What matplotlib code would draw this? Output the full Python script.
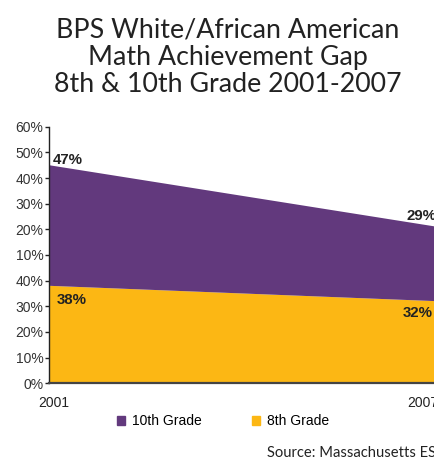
# BPS White/African American math achievement gap, stacked area chart
import matplotlib.pyplot as plt
from matplotlib.patches import Patch

years = [2001, 2007]
grade8 = [38, 32]
grade10 = [47, 29]
ytick_labels = ['0%', '10%', '20%', '30%', '40%', '10%', '20%', '30%', '40%', '50%', '60%']
series_names = ['10th Grade', '8th Grade']

purple = '#62397D'
yellow = '#FCB714'

W, H = 435, 461
fig = plt.figure(figsize=(W / 100, H / 100), dpi=100)
ax = fig.add_axes([49 / W, (H - 383.3) / H, (437 - 49) / W, 256.6 / H])

ax.stackplot(years, grade8, grade10, colors=[yellow, purple], linewidth=0)
ax.set_xlim(years[0], years[-1])
ax.set_ylim(0, 100)

ax.set_yticks(range(0, 101, 10))
ax.set_yticklabels(ytick_labels, fontsize=10, family='Liberation Sans')
ax.tick_params(axis='y', direction='out', length=3, width=1, pad=1,
               colors='#222222', labelcolor='#333333')
ax.set_xticks([])

for s in ['top', 'right']:
    ax.spines[s].set_visible(False)
ax.spines['left'].set_color('#222222')
ax.spines['left'].set_linewidth(1)
ax.spines['bottom'].set_color('#444444')
ax.spines['bottom'].set_linewidth(1.6)

# x labels
fig.text(54 / W, 1 - 403 / H, str(years[0]), ha='center', va='center',
         fontsize=10, color='#222222', family='Liberation Sans')
fig.text(407 / W, 1 - 403 / H, str(years[-1]), ha='left', va='center',
         fontsize=10, color='#222222', family='Liberation Sans')

# value labels
lbl = dict(fontsize=10.8, fontweight='bold', color='#222222', family='Liberation Sans',
           va='center', ha='left')
fig.text(53 / W, 1 - 160 / H, f'{grade10[0]}%', **lbl)
fig.text(57 / W, 1 - 300.5 / H, f'{grade8[0]}%', **lbl)
fig.text(406.5 / W, 1 - 216 / H, f'{grade10[1]}%', **lbl)
fig.text(402.5 / W, 1 - 313 / H, f'{grade8[1]}%', **lbl)

fig.text(228 / W, 1 - 57 / H,
         'BPS White/African American\nMath Achievement Gap\n8th & 10th Grade 2001-2007',
         ha='center', va='center', fontsize=19.3, color='#222222', family='Lato',
         linespacing=1.12)

handles = [Patch(color=purple), Patch(color=yellow)]
fig.legend(handles, series_names, loc='center left', bbox_to_anchor=(117 / W, 1 - 421 / H),
           ncol=2, frameon=False, borderpad=0, borderaxespad=0,
           handlelength=0.6, handleheight=0.6, handletextpad=0.5, columnspacing=3.6,
           prop={'family': 'Liberation Sans', 'size': 10})

fig.text(267 / W, 1 - 453 / H, 'Source: Massachusetts ESE', ha='left', va='center',
         fontsize=10.6, color='#222222', family='Lato')

fig.savefig('out.png', dpi=100)
